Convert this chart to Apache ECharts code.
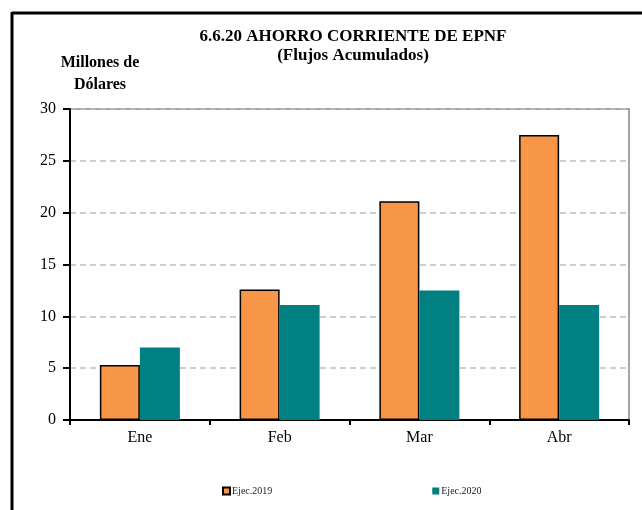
<!DOCTYPE html>
<html>
<head>
<meta charset="utf-8">
<script src="https://cdn.jsdelivr.net/npm/echarts@6/dist/echarts.min.js"></script>
<style>
html, body { margin: 0; padding: 0; background: #fff; }
#chart { width: 642px; height: 510px; }
</style>
</head>
<body>
<div id="chart"></div>
<script>
// datos
var months = ['Ene', 'Feb', 'Mar', 'Abr'];
var ejec2019 = [5.3, 12.6, 21.1, 27.5];
var ejec2020 = [7.0, 11.1, 12.5, 11.1];
var seriesNames = ['Ejec.2019', 'Ejec.2020'];

var serif = '"Liberation Serif", "DejaVu Serif", serif';

var mychart = echarts.init(document.getElementById('chart'));
var option = {
  animation: false,
  title: [
    {
      text: '6.6.20 AHORRO CORRIENTE DE EPNF',
      left: 348, top: 23, textAlign: 'center',
      textStyle: { fontFamily: serif, fontSize: 17, fontWeight: 'bold', color: '#000' }
    },
    {
      text: '(Flujos Acumulados)',
      left: 348, top: 42, textAlign: 'center',
      textStyle: { fontFamily: serif, fontSize: 17, fontWeight: 'bold', color: '#000' }
    },
    {
      text: 'Millones de\nDólares',
      left: 95, top: 47, textAlign: 'center',
      textStyle: { fontFamily: serif, fontSize: 16, fontWeight: 'bold', color: '#000', lineHeight: 22, align: 'center' }
    }
  ],
  graphic: [
    { type: 'line', shape: { x1: 12, y1: 13, x2: 642, y2: 13 }, style: { stroke: '#000', lineWidth: 3 } },
    { type: 'line', shape: { x1: 12, y1: 12, x2: 12, y2: 510 }, style: { stroke: '#000', lineWidth: 3 } }
  ],
  legend: {
    left: 217, top: 481,
    icon: 'rect',
    itemWidth: 7, itemHeight: 7, itemGap: 160,
    textStyle: { fontFamily: serif, fontSize: 10, color: '#222', padding: [0, 0, 0, -3] },
    data: [
      { name: seriesNames[0], itemStyle: { borderColor: '#000', borderWidth: 2 } },
      { name: seriesNames[1] }
    ]
  },
  grid: {
    left: 70, right: 13, top: 109, bottom: 90,
    show: true, borderColor: '#888', borderWidth: 1.5, backgroundColor: 'transparent'
  },
  xAxis: {
    type: 'category',
    data: months,
    axisLine: { lineStyle: { color: '#000', width: 2 } },
    axisTick: { show: true, inside: false, length: 5, lineStyle: { color: '#000', width: 2 } },
    axisLabel: { fontFamily: serif, fontSize: 16, color: '#000', margin: 10 }
  },
  yAxis: {
    type: 'value',
    min: 0, max: 30, interval: 5,
    axisLine: { show: true, lineStyle: { color: '#000', width: 2 } },
    axisTick: { show: true, length: 7, lineStyle: { color: '#000', width: 2 } },
    axisLabel: { fontFamily: serif, fontSize: 16, color: '#000', margin: 14 },
    splitLine: { show: true, lineStyle: { color: '#c0c0c0', type: [6, 4], width: 1.5 } }
  },
  series: [
    {
      name: seriesNames[0], type: 'bar', data: ejec2019,
      barWidth: 40, barGap: '0%',
      itemStyle: { color: '#f79646', borderColor: '#000', borderWidth: 1.5 }
    },
    {
      name: seriesNames[1], type: 'bar', data: ejec2020,
      barWidth: 40,
      itemStyle: { color: '#008080' }
    }
  ]
};
mychart.setOption(option);
</script>
</body>
</html>
